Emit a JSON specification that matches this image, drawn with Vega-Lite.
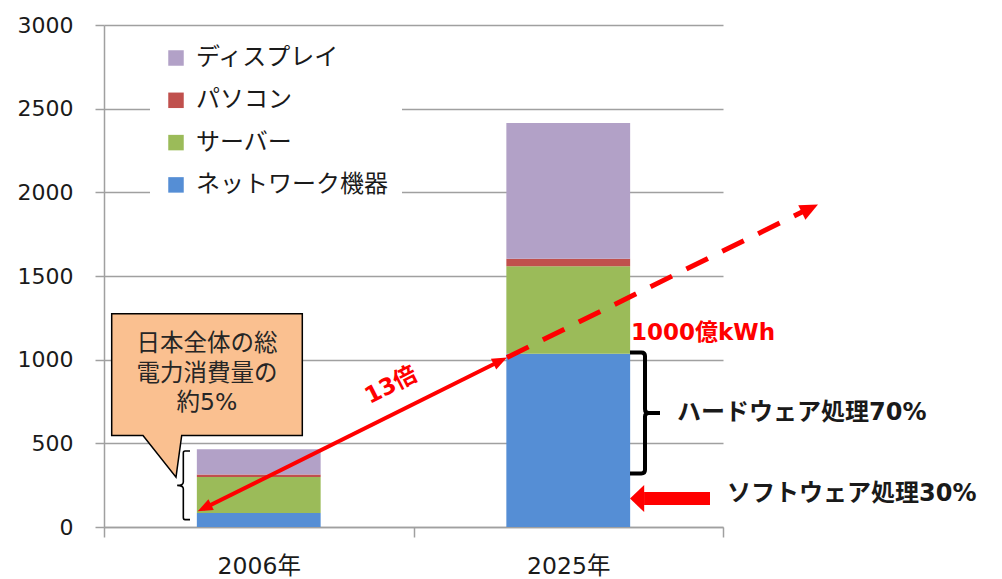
{
  "$schema": "https://vega.github.io/schema/vega-lite/v6.json",
  "width": 619,
  "height": 502,
  "autosize": {"type": "none"},
  "padding": {"left": 104, "top": 25, "right": 279, "bottom": 52},
  "background": "white",
  "config": {"view": {"stroke": null}, "font": "DejaVu Sans, Noto Sans CJK JP"},
  "layer": [
    {
      "data": {"values": [
        {"year": "2006年", "cat": "ネットワーク機器", "ord": 1, "value": 84},
        {"year": "2006年", "cat": "サーバー", "ord": 2, "value": 215},
        {"year": "2006年", "cat": "パソコン", "ord": 3, "value": 14},
        {"year": "2006年", "cat": "ディスプレイ", "ord": 4, "value": 151},
        {"year": "2025年", "cat": "ネットワーク機器", "ord": 1, "value": 1035},
        {"year": "2025年", "cat": "サーバー", "ord": 2, "value": 523},
        {"year": "2025年", "cat": "パソコン", "ord": 3, "value": 45},
        {"year": "2025年", "cat": "ディスプレイ", "ord": 4, "value": 812}
      ]},
      "mark": {"type": "bar", "width": {"band": 0.4}},
      "encoding": {
        "x": {
          "field": "year", "type": "nominal", "sort": ["2006年", "2025年"],
          "scale": {"paddingInner": 0, "paddingOuter": 0},
          "axis": {"title": null, "labelAngle": 0, "labelFontSize": 23.5, "labelColor": "#1a1a1a",
                   "labelFont": "DejaVu Sans, Noto Sans CJK JP",
                   "domainColor": "#a0a0a0", "domainWidth": 1.5, "tickColor": "#a0a0a0", "tickWidth": 1.5,
                   "tickSize": 10, "tickBand": "extent", "labelPadding": 17, "grid": false}
        },
        "y": {
          "field": "value", "type": "quantitative", "stack": "zero",
          "scale": {"domain": [0, 3000], "nice": false},
          "axis": {"title": null, "values": [0, 500, 1000, 1500, 2000, 2500, 3000], "format": "d",
                   "labelFontSize": 22, "labelColor": "#1a1a1a", "labelFont": "DejaVu Sans",
                   "grid": true, "gridColor": "#a0a0a0", "gridWidth": 1.5,
                   "domainColor": "#a0a0a0", "domainWidth": 1.5, "tickColor": "#a0a0a0", "tickWidth": 1.5,
                   "tickSize": 9, "labelPadding": 22}
        },
        "color": {
          "field": "cat", "type": "nominal",
          "scale": {"domain": ["ディスプレイ", "パソコン", "サーバー", "ネットワーク機器"],
                    "range": ["#B2A1C7", "#C0504D", "#9BBB59", "#558ED5"]},
          "legend": {"title": null, "orient": "none", "legendX": 46, "legendY": 7,
                     "fillColor": "white", "padding": 14, "symbolType": "square", "symbolSize": 240,
                     "symbolStrokeWidth": 0, "symbolOpacity": 1, "labelFontSize": 24,
                     "labelFont": "Noto Sans CJK JP", "labelColor": "#1a1a1a", "rowPadding": 18.3,
                     "labelOffset": 8, "labelLimit": 400}
        },
        "order": {"field": "ord", "type": "quantitative"}
      }
    },
    {
      "encoding": {
        "x": {"field": "u", "type": "quantitative", "scale": {"domain": [0, 2], "nice": false, "zero": false}, "axis": null},
        "y": {"field": "v", "type": "quantitative", "scale": {"domain": [0, 3000], "nice": false}, "axis": null}
      },
      "layer": [
        {
          "data": {"values": [{"u": 0.3328, "v": 911}]},
          "mark": {"type": "point", "shape": "M-0.953,-0.609L0.953,-0.609L0.953,0.609L-0.253,0.609L-0.31,1.026L-0.64,0.609L-0.953,0.609Z",
                   "size": 40000, "fill": "#FAC090", "stroke": "#000000", "strokeWidth": 1.5, "opacity": 1, "fillOpacity": 1, "strokeOpacity": 1}
        },
        {
          "data": {"values": [
            {"u": 0.3328, "v": 1096, "t": "日本全体の総"},
            {"u": 0.3328, "v": 917, "t": "電力消費量の"},
            {"u": 0.3328, "v": 742, "t": "約5%"}
          ]},
          "mark": {"type": "text", "fontSize": 23.5, "font": "DejaVu Sans, Noto Sans CJK JP", "color": "#262626", "align": "center", "baseline": "middle"},
          "encoding": {"text": {"field": "t"}}
        },
        {
          "data": {"values": [{"u": 0.3212, "v": 110}, {"u": 1.2847, "v": 997}]},
          "mark": {"type": "line", "color": "#FF0000", "strokeWidth": 4}
        },
        {
          "data": {"values": [{"u": 1.3021, "v": 1013}, {"u": 2.2682, "v": 1894}]},
          "mark": {"type": "line", "color": "#FF0000", "strokeWidth": 5, "strokeDash": [24, 16]}
        },
        {
          "data": {"values": [{"u": 0.3027, "v": 93.7}]},
          "mark": {"type": "point", "shape": "M0,0L-2,-0.8L-2,0.8Z", "size": 225, "angle": 153.5, "fill": "#FF0000", "strokeWidth": 0, "opacity": 1, "fillOpacity": 1}
        },
        {
          "data": {"values": [{"u": 1.3021, "v": 1013.4}]},
          "mark": {"type": "point", "shape": "M0,0L-2,-0.8L-2,0.8Z", "size": 225, "angle": -26.5, "fill": "#FF0000", "strokeWidth": 0, "opacity": 1, "fillOpacity": 1}
        },
        {
          "data": {"values": [{"u": 2.3069, "v": 1927}]},
          "mark": {"type": "point", "shape": "M0,0L-2,-0.9L-2,0.9Z", "size": 324, "angle": -26.2, "fill": "#FF0000", "strokeWidth": 0, "opacity": 1, "fillOpacity": 1}
        },
        {
          "data": {"values": [{"u": 0.9273, "v": 846, "t": "13倍"}]},
          "mark": {"type": "text", "fontSize": 23, "fontWeight": "bold", "color": "#FF0000", "angle": -27, "align": "center", "baseline": "middle", "font": "DejaVu Sans, Noto Sans CJK JP"},
          "encoding": {"text": {"field": "t"}}
        },
        {
          "data": {"values": [{"u": 1.7027, "v": 1157, "t": "1000億kWh"}]},
          "mark": {"type": "text", "fontSize": 23, "fontWeight": "bold", "color": "#FF0000", "align": "left", "baseline": "middle", "font": "DejaVu Sans, Noto Sans CJK JP"},
          "encoding": {"text": {"field": "t"}}
        },
        {
          "data": {"values": [{"u": 0.2585, "v": 249}]},
          "mark": {"type": "point", "shape": "M0.175,-1L0.03,-1Q-0.02,-1,-0.02,-0.94L-0.02,-0.1Q-0.02,0,-0.2,0Q-0.02,0,-0.02,0.1L-0.02,0.94Q-0.02,1,0.03,1L0.175,1",
                   "size": 4706, "fill": null, "filled": false, "stroke": "#000000", "strokeWidth": 1.6, "opacity": 1, "strokeOpacity": 1}
        },
        {
          "data": {"values": [{"u": 1.748, "v": 682}]},
          "mark": {"type": "point", "shape": "M-0.248,-1L-0.06,-1Q0,-1,0,-0.94L0,-0.06Q0,0,0.06,0L0.248,0M0.06,0Q0,0,0,0.06L0,0.94Q0,1,-0.06,1L-0.248,1",
                   "size": 14641, "fill": null, "filled": false, "stroke": "#000000", "strokeWidth": 4, "opacity": 1, "strokeOpacity": 1}
        },
        {
          "data": {"values": [
            {"u": 1.8514, "v": 679, "t": "ハードウェア処理70%"},
            {"u": 2.0129, "v": 199.4, "t": "ソフトウェア処理30%"}
          ]},
          "mark": {"type": "text", "fontSize": 24, "fontWeight": "bold", "color": "#1a1a1a", "align": "left", "baseline": "middle", "font": "DejaVu Sans, Noto Sans CJK JP"},
          "encoding": {"text": {"field": "t"}}
        },
        {
          "data": {"values": [{"u": 1.745, "v": 169.6}, {"u": 1.958, "v": 169.6}]},
          "mark": {"type": "line", "color": "#FF0000", "strokeWidth": 13}
        },
        {
          "data": {"values": [{"u": 1.6995, "v": 169.6}]},
          "mark": {"type": "point", "shape": "M0,0L1.05,-1L1.05,1Z", "size": 729, "fill": "#FF0000", "strokeWidth": 0, "opacity": 1, "fillOpacity": 1}
        }
      ]
    }
  ],
  "resolve": {"scale": {"x": "independent", "y": "independent", "color": "independent"}, "axis": {"x": "independent", "y": "independent"}}
}
